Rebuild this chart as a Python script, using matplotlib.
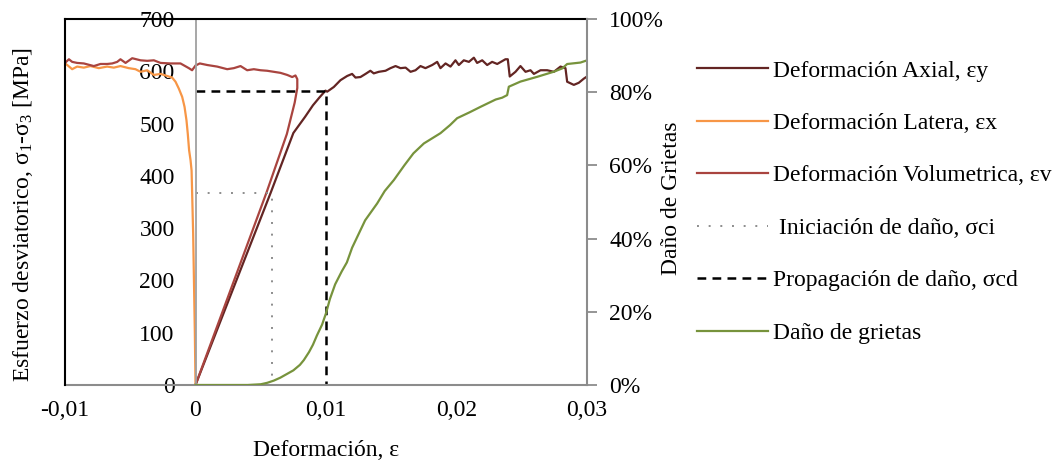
import matplotlib as mpl
mpl.use('Agg')
import matplotlib.pyplot as plt
from matplotlib.ticker import FixedLocator, FixedFormatter

mpl.rc('font', family='Liberation Serif', size=17)
mpl.rcParams['mathtext.fontset'] = 'custom'
mpl.rcParams['mathtext.rm'] = 'Liberation Serif'
mpl.rcParams['mathtext.it'] = 'Liberation Serif:italic'

# deformacion axial (strain, MPa)
eps_axial = [0, 0.00575, 0.0075, 0.0084, 0.0090, 0.0095, 0.00996, 0.01009, 0.0106, 0.01111,
             0.01162, 0.0120, 0.01226, 0.01264, 0.01303, 0.0134, 0.01366, 0.01405, 0.01456,
             0.01494, 0.01533, 0.01571, 0.0161, 0.01648, 0.01686, 0.01724, 0.01762, 0.01814,
             0.01852, 0.01877, 0.01916, 0.01954, 0.01992, 0.02018, 0.02056, 0.02095, 0.02133,
             0.02158, 0.02197, 0.02235, 0.02273, 0.02312, 0.02375, 0.02393, 0.02408, 0.02452,
             0.0249, 0.02529, 0.02567, 0.02593, 0.02644, 0.02695, 0.02746, 0.02797, 0.02835,
             0.02848, 0.02899, 0.02937, 0.02976, 0.0300]
sig_axial = [0, 367, 482, 513, 535, 550, 563, 561, 570, 583,
             591, 595, 588, 589, 595, 601, 596, 599, 601,
             606, 610, 606, 607, 599, 602, 610, 606, 612,
             618, 606, 615, 609, 621, 612, 621, 618, 626,
             616, 621, 612, 618, 614, 623, 623, 590, 599,
             610, 599, 602, 595, 602, 602, 599, 609, 606,
             580, 574, 578, 586, 590]

# deformacion lateral
eps_lat = [0, -0.00005, -0.00018, -0.00030, -0.00038, -0.00049, -0.00059, -0.00069, -0.00084,
           -0.00102, -0.00128, -0.00153, -0.00179, -0.00217, -0.00268, -0.00319, -0.0037,
           -0.00421, -0.0046, -0.00511, -0.00575, -0.00626, -0.00677, -0.00741, -0.00805,
           -0.00856, -0.00907, -0.00945, -0.00983, -0.0100]
sig_lat = [0, 99, 290, 410, 430, 449, 480, 506, 532,
           551, 567, 580, 588, 591, 595, 593, 602,
           599, 604, 606, 610, 607, 609, 606, 610,
           607, 609, 604, 612, 615]

# deformacion volumetrica
eps_vol = [0, 0.00544, 0.0070, 0.0076, 0.0078, 0.0078, 0.00766, 0.00741, 0.00703, 0.00651,
           0.0060, 0.00549, 0.00498, 0.00447, 0.00396, 0.00345, 0.00294, 0.00243, 0.00166,
           0.0009, 0.00033, 0, -0.00026, -0.00051, -0.00115, -0.00192, -0.00268, -0.00319,
           -0.0037, -0.00421, -0.00485, -0.00536, -0.00575, -0.006, -0.00638, -0.00677,
           -0.00728, -0.00779, -0.00856, -0.00907, -0.00945, -0.0097, -0.0100]
sig_vol = [0, 368, 480, 540, 568, 585, 592, 589, 593, 597,
           599, 601, 602, 604, 602, 610, 606, 604, 609,
           612, 615, 611, 602, 606, 615, 615, 616, 621,
           620, 621, 625, 616, 623, 618, 615, 614,
           614, 610, 615, 616, 618, 623, 616]

# dano de grietas (fraccion)
eps_dano = [0, 0.004, 0.005, 0.0055, 0.006, 0.0065, 0.007, 0.0075, 0.008, 0.0083, 0.0087,
            0.009, 0.0093, 0.0097, 0.0100, 0.0103, 0.0107, 0.0112, 0.0116, 0.0120,
            0.01264, 0.0130, 0.01392, 0.0145, 0.0152, 0.0160, 0.0167, 0.0175, 0.01877,
            0.0195, 0.02005, 0.0210, 0.02184, 0.0230, 0.0235, 0.02388, 0.02401, 0.0249,
            0.02618, 0.02746, 0.0281, 0.02848, 0.0295, 0.0300]
dano = [0, 0, 0.002, 0.006, 0.012, 0.02, 0.03, 0.04, 0.055, 0.068, 0.09,
        0.11, 0.135, 0.165, 0.196, 0.235, 0.275, 0.31, 0.335, 0.375,
        0.423, 0.45, 0.496, 0.53, 0.56, 0.60, 0.633, 0.66, 0.688,
        0.71, 0.729, 0.745, 0.76, 0.78, 0.785, 0.792, 0.815, 0.829,
        0.842, 0.856, 0.865, 0.877, 0.881, 0.887]

# umbrales de dano
eps_ci, sig_ci = 0.0059, 368
eps_cd, sig_cd = 0.0100, 563

xticks = [-0.01, 0, 0.01, 0.02, 0.03]
xticklabels = ['-0,01', '0', '0,01', '0,02', '0,03']
yticks = [0, 100, 200, 300, 400, 500, 600, 700]
pticks = [0, 0.2, 0.4, 0.6, 0.8, 1.0]
pticklabels = ['0%', '20%', '40%', '60%', '80%', '100%']

fig = plt.figure(figsize=(10.63, 4.62), dpi=100)
ax = fig.add_axes([65/1063, 1-385/462, 522/1063, 366/462])

l1, = ax.plot(eps_axial, sig_axial, color='#632523', lw=1.6, label='Deformación Axial, εy')
l2, = ax.plot(eps_lat, sig_lat, color='#F79646', lw=1.6, label='Deformación Latera, εx')
l3, = ax.plot(eps_vol, sig_vol, color='#A9443F', lw=1.6, label='Deformación Volumetrica, εv')
l4, = ax.plot([0, eps_ci, eps_ci], [sig_ci, sig_ci, 0], color='#8C8C8C', lw=1.4,
              linestyle=(0, (1, 5)), label=' Iniciación de daño, σci')
l5, = ax.plot([0, eps_cd, eps_cd], [sig_cd, sig_cd, 0], color='black', lw=1.8,
              linestyle=(0, (3.5, 2.5)), label='Propagación de daño, σcd')
ax.plot([-0.01, -0.01], [0, 700], color='black', lw=1.5, clip_on=False, zorder=5)

ax.set_xlim(-0.01, 0.03)
ax.set_ylim(0, 700)
ax.xaxis.set_major_locator(FixedLocator(xticks))
ax.xaxis.set_major_formatter(FixedFormatter(xticklabels))
ax.set_yticks(yticks)
ax.tick_params(axis='x', length=0, pad=11)
ax.tick_params(axis='y', length=0, pad=15)

ax.spines['left'].set_position(('data', 0))
ax.spines['left'].set_color('#A0A0A0')
ax.spines['left'].set_linewidth(1.3)
ax.spines['bottom'].set_color('#8C8C8C')
ax.spines['bottom'].set_linewidth(1.5)
ax.spines['top'].set_color('black')
ax.spines['top'].set_linewidth(1.5)
ax.spines['right'].set_visible(False)

ax.set_xlabel('Deformación, ε')
ax.xaxis.set_label_coords(0.5, -0.15)
ax.set_ylabel('Esfuerzo desviatorico, σ$_1$-σ$_3$ [MPa]')
ax.yaxis.set_label_coords(-0.057, 0.466)

ax2 = ax.twinx()
l6, = ax2.plot(eps_dano, dano, color='#77933C', lw=1.6, label='Daño de grietas')
ax2.set_ylim(0, 1)
ax2.set_yticks(pticks)
ax2.set_yticklabels(pticklabels)
ax2.tick_params(axis='y', length=7, width=1.3, color='#8C8C8C', pad=9)
for s in ['top', 'left', 'bottom']:
    ax2.spines[s].set_visible(False)
ax2.spines['right'].set_color('#8C8C8C')
ax2.spines['right'].set_linewidth(1.5)
ax2.set_ylabel('Daño de Grietas')
ax2.yaxis.set_label_coords(1.1418, 0.51)

fig.legend(handles=[l1, l2, l3, l4, l5, l6], loc='upper left',
           bbox_to_anchor=(697/1063, 1-60/462), frameon=False,
           handlelength=3.0, handletextpad=0.22, labelspacing=1.31,
           borderpad=0, borderaxespad=0)

plt.savefig('out.png', dpi=100)
plt.close()
